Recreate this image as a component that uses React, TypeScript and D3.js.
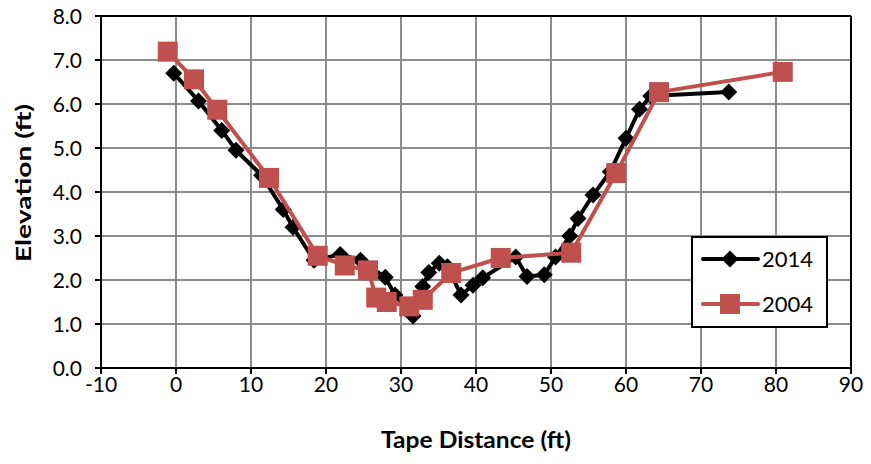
import React from "react";
import * as d3 from "d3";

const s2014x = [-0.3, 3.0, 6.1, 8.0, 11.4, 14.3, 15.6, 18.4, 21.9, 24.6, 27.9, 29.2, 31.6, 32.9, 33.7, 35.1, 36.2, 38.0, 39.6, 40.9, 45.3, 46.8, 49.1, 50.6, 52.5, 53.6, 55.6, 57.9, 60.0, 61.8, 63.3, 73.7];
const s2014y = [6.70, 6.07, 5.40, 4.95, 4.38, 3.60, 3.20, 2.45, 2.58, 2.45, 2.06, 1.66, 1.18, 1.85, 2.17, 2.38, 2.30, 1.66, 1.88, 2.05, 2.52, 2.08, 2.12, 2.52, 3.00, 3.40, 3.93, 4.46, 5.22, 5.88, 6.18, 6.27];

const s2004x = [-1.1, 2.4, 5.5, 12.4, 18.9, 22.5, 25.6, 26.7, 28.1, 31.1, 32.9, 36.7, 43.3, 52.7, 58.7, 64.4, 80.9];
const s2004y = [7.19, 6.56, 5.87, 4.32, 2.55, 2.33, 2.22, 1.60, 1.50, 1.40, 1.55, 2.16, 2.50, 2.62, 4.43, 6.27, 6.73];

const xTicks = [-10, 0, 10, 20, 30, 40, 50, 60, 70, 80, 90];
const yTicks = [0, 1, 2, 3, 4, 5, 6, 7, 8];

const FONT = "Lato, 'Open Sans', sans-serif";

export default function App() {
  const L = 101, R = 851, T = 16, B = 368;
  const x = d3.scaleLinear().domain([-10, 90]).range([L, R]);
  const y = d3.scaleLinear().domain([0, 8]).range([B, T]);
  const d14 = s2014x.map((v, i) => [v, s2014y[i]] as [number, number]);
  const d04 = s2004x.map((v, i) => [v, s2004y[i]] as [number, number]);
  const line = d3.line<[number, number]>().x(d => x(d[0])).y(d => y(d[1]));
  const red = "#C0504D";
  const dm = 8.5;
  const sq = 10;
  return (
    <svg width={871} height={464} style={{ position: "absolute", left: 0, top: 0, background: "#fff" }}>
      <rect x={0} y={0} width={871} height={464} fill="#fff" />
      {xTicks.map(t => (
        <line key={"gx" + t} x1={x(t)} x2={x(t)} y1={T} y2={B} stroke="#8c8c8c" strokeWidth={2} />
      ))}
      {yTicks.map(t => (
        <line key={"gy" + t} x1={L} x2={R} y1={y(t)} y2={y(t)} stroke="#8c8c8c" strokeWidth={2} />
      ))}
      <line x1={L} x2={R} y1={T} y2={T} stroke="#000" strokeWidth={2} />
      <line x1={R} x2={R} y1={T} y2={B} stroke="#000" strokeWidth={2} />
      <line x1={L} x2={L} y1={T} y2={B + 1} stroke="#000" strokeWidth={2} />
      <line x1={L - 1} x2={R + 1} y1={B} y2={B} stroke="#000" strokeWidth={2} />
      {yTicks.map(t => (
        <line key={"ty" + t} x1={L - 6} x2={L} y1={y(t)} y2={y(t)} stroke="#000" strokeWidth={2} />
      ))}
      {xTicks.map(t => (
        <line key={"tx" + t} x1={x(t)} x2={x(t)} y1={B} y2={B + 6} stroke="#000" strokeWidth={2} />
      ))}
      {yTicks.map(t => (
        <text key={"ly" + t} x={82} y={y(t) + 7.5} textAnchor="end" fontFamily={FONT} fontSize={21} fill="#000">
          {t.toFixed(1)}
        </text>
      ))}
      {xTicks.map(t => (
        <text key={"lx" + t} x={x(t)} y={392} textAnchor="middle" fontFamily={FONT} fontSize={21} fill="#000">
          {t}
        </text>
      ))}
      <text x={476} y={448} textAnchor="middle" fontFamily={FONT} fontWeight="bold" fontSize={22} fill="#000" textLength={190} lengthAdjust="spacingAndGlyphs">
        Tape Distance (ft)
      </text>
      <text transform="translate(31,183) rotate(-90)" textAnchor="middle" fontFamily={FONT} fontWeight="bold" fontSize={21} fill="#000" textLength={158} lengthAdjust="spacingAndGlyphs">
        Elevation (ft)
      </text>
      <path d={line(d14) || ""} fill="none" stroke="#000" strokeWidth={4} strokeLinejoin="round" />
      {d14.map((d, i) => (
        <path key={"d" + i} d={`M${x(d[0])},${y(d[1]) - dm}L${x(d[0]) + dm},${y(d[1])}L${x(d[0])},${y(d[1]) + dm}L${x(d[0]) - dm},${y(d[1])}Z`} fill="#000" />
      ))}
      <path d={line(d04) || ""} fill="none" stroke={red} strokeWidth={4} strokeLinejoin="round" />
      {d04.map((d, i) => (
        <rect key={"s" + i} x={x(d[0]) - sq} y={y(d[1]) - sq} width={sq * 2} height={sq * 2} fill={red} />
      ))}
      <rect x={692} y={237} width={135} height={90} fill="#fff" stroke="#000" strokeWidth={2} />
      <line x1={703} x2={758} y1={259} y2={259} stroke="#000" strokeWidth={4} strokeLinecap="round" />
      <path d={`M730,${259 - dm}L${730 + dm},259L730,${259 + dm}L${730 - dm},259Z`} fill="#000" />
      <text x={762} y={267} fontFamily={FONT} fontSize={22} fill="#000">2014</text>
      <line x1={703} x2={758} y1={304} y2={304} stroke={red} strokeWidth={4} strokeLinecap="round" />
      <rect x={730 - sq} y={304 - sq} width={sq * 2} height={sq * 2} fill={red} />
      <text x={762} y={312} fontFamily={FONT} fontSize={22} fill="#000">2004</text>
    </svg>
  );
}
